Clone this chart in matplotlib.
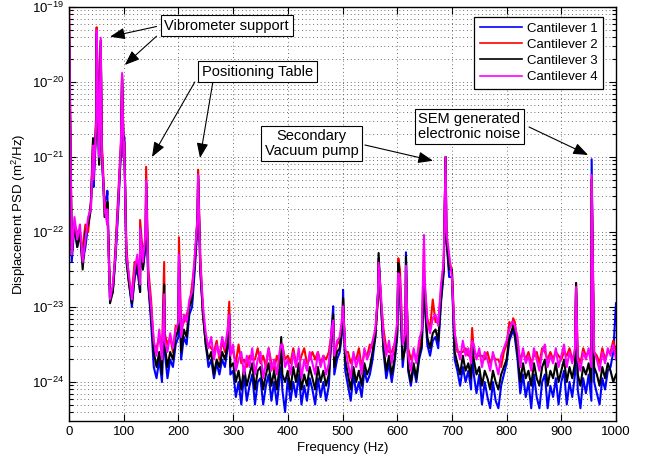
import numpy as np
import matplotlib
matplotlib.use("Agg")
import matplotlib.pyplot as plt
from matplotlib.ticker import FixedLocator, NullFormatter

plt.rcParams['font.family'] = ['Liberation Sans', 'DejaVu Sans']
plt.rcParams['mathtext.fontset'] = 'custom'
plt.rcParams['mathtext.rm'] = 'Liberation Sans'
plt.rcParams['mathtext.it'] = 'Liberation Sans:italic'

# ---------------- data (log10 of PSD, m^2/Hz) ----------------
# base spectrum sampled every 5 Hz, 0..1000 Hz
freq_base = np.arange(0, 1001, 5)

cant1_base = [
    -19.3, -22.4, -21.9, -22.2, -22.0, -22.4, -22.2, -21.9, -21.6, -21.4,
    -20.6, -21.1, -21.0, -21.6, -21.5, -22.9, -22.8, -22.35, -21.7, -20.9,
    -21.0, -22.3, -22.7, -23.0, -22.6, -22.5, -22.8, -22.5, -22.2, -22.7,
    -23.2, -23.8, -23.95, -23.7, -24.0, -23.6, -23.95, -23.7, -23.8, -23.5,
    -23.4, -23.7, -23.4, -23.5, -23.1, -23.0, -22.5, -21.9, -22.5, -23.1,
    -23.5, -23.8, -23.7, -23.95, -23.75, -23.9, -23.7, -23.8, -23.55, -23.9,
    -23.85, -24.2, -24.0, -24.3, -23.9, -24.25, -24.05, -23.9, -24.3, -24.0,
    -23.95, -24.3, -24.05, -23.9, -24.25, -24.0, -24.3, -23.95, -24.1, -24.4,
    -23.95, -24.25, -24.0, -24.2, -23.9, -24.3, -24.05, -24.25, -23.95, -24.1,
    -24.3, -23.95, -24.2, -24.0, -24.25, -24.05, -23.3, -23.9, -23.7, -23.6,
    -23.3, -23.85, -24.05, -24.25, -23.9, -24.15, -24.0, -24.2, -23.85, -24.0,
    -23.9, -23.7, -23.4, -22.8, -22.9, -23.6, -23.95, -23.75, -24.0, -23.75,
    -23.4, -22.8, -23.8, -23.45, -23.85, -24.05, -23.8, -24.0, -23.7, -23.55,
    -22.9, -23.5, -23.65, -23.45, -23.4, -23.55, -22.95, -22.55, -22.1, -22.6,
    -22.6, -23.7, -23.85, -24.05, -23.8, -24.0, -23.85, -24.1, -23.9, -24.15,
    -23.9, -24.3, -24.0, -24.2, -24.35, -24.0, -24.25, -24.35, -24.05, -23.9,
    -23.75, -23.45, -23.35, -23.4, -23.7, -24.15, -23.9, -24.2, -24.0, -24.35,
    -23.9, -24.2, -24.35, -24.0, -23.9, -24.35, -24.05, -24.2, -23.95, -24.3,
    -24.0, -23.85, -24.3, -24.0, -24.2, -23.9, -24.1, -24.35, -23.95, -24.15,
    -23.9, -24.25, -24.0, -24.15, -24.3, -23.95, -24.1, -23.85, -23.8, -23.6,
    -22.95]

cant2_base = [
    -19.0, -22.2, -21.9, -22.0, -22.1, -22.2, -21.9, -22.0, -21.6, -21.2,
    -20.4, -21.1, -20.8, -21.6, -21.8, -22.8, -22.8, -22.2, -21.5, -20.8,
    -20.9, -22.2, -22.7, -22.8, -22.4, -22.4, -22.6, -22.3, -22.1, -22.5,
    -22.9, -23.5, -23.55, -23.4, -23.6, -23.35, -23.5, -23.4, -23.6, -23.25,
    -23.3, -23.3, -23.2, -23.1, -23.0, -22.7, -22.4, -21.8, -22.3, -23.1,
    -23.45, -23.5, -23.55, -23.6, -23.45, -23.7, -23.45, -23.6, -23.35, -23.6,
    -23.6, -23.75, -23.5, -23.75, -23.7, -23.8, -23.65, -23.7, -23.7, -23.55,
    -23.75, -23.65, -23.8, -23.55, -23.75, -23.85, -23.65, -23.75, -23.5, -23.7,
    -23.65, -23.75, -23.55, -23.75, -23.8, -23.65, -23.55, -23.75, -23.7, -23.6,
    -23.7, -23.6, -23.75, -23.65, -23.7, -23.6, -23.35, -23.7, -23.5, -23.45,
    -23.2, -23.6, -23.6, -23.75, -23.65, -23.7, -23.55, -23.8, -23.6, -23.65,
    -23.5, -23.55, -23.35, -22.9, -22.9, -23.3, -23.55, -23.6, -23.6, -23.5,
    -23.3, -22.5, -23.45, -23.45, -23.55, -23.7, -23.6, -23.7, -23.55, -23.4,
    -22.7, -23.15, -23.3, -22.9, -23.2, -23.2, -22.8, -22.45, -22.1, -22.4,
    -22.5, -23.35, -23.6, -23.6, -23.6, -23.55, -23.65, -23.6, -23.6, -23.65,
    -23.65, -23.65, -23.7, -23.6, -23.75, -23.65, -23.7, -23.7, -23.8, -23.6,
    -23.5, -23.2, -23.25, -23.2, -23.5, -23.7, -23.6, -23.7, -23.6, -23.75,
    -23.65, -23.6, -23.75, -23.55, -23.6, -23.7, -23.6, -23.7, -23.6, -23.65,
    -23.7, -23.6, -23.65, -23.55, -23.7, -23.6, -23.65, -23.75, -23.55, -23.65,
    -23.6, -23.7, -23.6, -23.65, -23.75, -23.55, -23.7, -23.6, -23.6, -23.45,
    -23.6]

cant3_base = [
    -19.2, -22.3, -21.9, -22.2, -22.0, -22.5, -22.0, -21.9, -21.7, -21.3,
    -20.5, -21.1, -20.9, -21.8, -21.8, -22.95, -22.8, -22.3, -21.6, -20.9,
    -21.0, -22.4, -22.7, -22.95, -22.6, -22.4, -22.8, -22.5, -22.1, -22.7,
    -23.1, -23.6, -23.8, -23.6, -23.9, -23.5, -23.8, -23.6, -23.7, -23.4,
    -23.3, -23.6, -23.3, -23.4, -23.0, -22.9, -22.4, -21.8, -22.5, -23.1,
    -23.5, -23.7, -23.6, -23.9, -23.7, -23.8, -23.6, -23.7, -23.5, -23.8,
    -23.75, -24.0, -23.85, -24.1, -23.8, -24.05, -23.9, -23.75, -24.1, -23.85,
    -23.8, -24.1, -23.9, -23.75, -24.05, -23.85, -24.1, -23.8, -23.9, -24.0,
    -23.85, -24.1, -23.8, -24.0, -23.75, -24.1, -23.9, -24.05, -23.8, -23.95,
    -24.1, -23.8, -24.0, -23.85, -24.05, -23.9, -23.4, -23.8, -23.6, -23.55,
    -23.2, -23.7, -23.9, -24.1, -23.8, -24.0, -23.85, -24.05, -23.75, -23.9,
    -23.8, -23.6, -23.4, -22.8, -22.9, -23.55, -23.85, -23.65, -23.9, -23.7,
    -23.35, -22.7, -23.7, -23.55, -23.8, -24.0, -23.75, -23.95, -23.65, -23.5,
    -22.9, -23.4, -23.55, -23.35, -23.3, -23.45, -22.9, -22.5, -22.1, -22.5,
    -22.5, -23.6, -23.75, -23.9, -23.65, -23.85, -23.75, -23.95, -23.7, -23.9,
    -23.8, -24.05, -23.85, -23.95, -24.1, -23.85, -24.0, -24.1, -23.9, -23.8,
    -23.7, -23.4, -23.3, -23.35, -23.6, -24.0, -23.75, -23.95, -23.85, -24.05,
    -23.75, -23.95, -24.05, -23.8, -23.7, -24.05, -23.85, -23.95, -23.75, -24.0,
    -23.85, -23.7, -24.0, -23.8, -23.95, -23.75, -23.9, -24.05, -23.8, -23.9,
    -23.75, -24.0, -23.8, -23.9, -24.05, -23.8, -23.95, -23.75, -23.85, -24.0,
    -23.9]

cant4_base = [
    -19.0, -22.3, -21.8, -22.1, -21.9, -22.4, -22.1, -21.8, -21.7, -21.3,
    -20.5, -21.0, -20.9, -21.7, -21.9, -22.9, -22.7, -22.3, -21.6, -20.8,
    -21.0, -22.3, -22.6, -22.9, -22.5, -22.3, -22.7, -22.4, -22.0, -22.6,
    -23.0, -23.45, -23.65, -23.3, -23.7, -23.45, -23.6, -23.35, -23.55, -23.3,
    -23.2, -23.4, -23.1, -23.2, -22.9, -22.8, -22.3, -21.8, -22.4, -23.0,
    -23.35, -23.55, -23.4, -23.7, -23.5, -23.65, -23.4, -23.55, -23.3, -23.65,
    -23.5, -23.85, -23.7, -23.6, -23.9, -23.65, -23.8, -23.55, -23.9, -23.7,
    -23.6, -23.95, -23.75, -23.55, -23.85, -23.7, -23.9, -23.6, -23.5, -23.8,
    -23.7, -23.9, -23.6, -23.8, -23.55, -23.95, -23.7, -23.85, -23.6, -23.75,
    -23.9, -23.6, -23.8, -23.65, -23.9, -23.75, -23.3, -23.65, -23.45, -23.4,
    -23.1, -23.55, -23.75, -23.95, -23.6, -23.8, -23.65, -23.9, -23.55, -23.7,
    -23.6, -23.45, -23.3, -22.8, -22.8, -23.4, -23.65, -23.45, -23.75, -23.5,
    -23.2, -22.6, -23.5, -23.35, -23.65, -23.85, -23.55, -23.75, -23.45, -23.3,
    -22.6, -23.2, -23.35, -23.15, -23.1, -23.25, -22.7, -22.4, -22.0, -22.3,
    -22.6, -23.35, -23.55, -23.7, -23.45, -23.65, -23.55, -23.75, -23.5, -23.7,
    -23.55, -23.8, -23.6, -23.7, -23.85, -23.6, -23.75, -23.9, -23.65, -23.55,
    -23.45, -23.3, -23.2, -23.25, -23.4, -23.8, -23.55, -23.75, -23.65, -23.85,
    -23.55, -23.7, -23.85, -23.6, -23.5, -23.8, -23.65, -23.75, -23.55, -23.8,
    -23.65, -23.5, -23.8, -23.6, -23.75, -23.55, -23.7, -23.85, -23.6, -23.7,
    -23.55, -23.8, -23.6, -23.7, -23.85, -23.6, -23.75, -23.55, -23.65, -23.5,
    -23.7]

# narrow resonance peaks
peak_freq = [44, 50.5, 58, 70, 97, 101, 104, 130, 141, 174, 201, 236, 293,
             388, 483, 501, 566, 602, 616, 649, 688.5, 737, 812, 927, 955.5]
cant1_peaks = [-21.0, -19.4, -19.5, -21.45, -19.95, -20.73, -22.0, -22.0, -21.5,
               -22.9, -22.4, -21.3, -23.2, -23.8, -22.99, -22.77, -22.35, -22.5,
               -22.27, -22.5, -21.0, -23.5, -23.3, -22.75, -21.03]
cant2_peaks = [-20.75, -19.27, -19.45, -21.6, -19.9, -20.8, -21.87, -21.84, -21.13,
               -22.4, -22.07, -21.17, -22.93, -23.6, -23.2, -22.9, -22.4, -22.35,
               -22.5, -22.2, -21.0, -23.28, -23.15, -22.68, -21.3]
cant3_peaks = [-20.75, -19.35, -19.45, -21.6, -19.9, -20.8, -22.0, -21.95, -21.35,
               -22.7, -22.3, -21.25, -23.1, -23.4, -23.1, -22.88, -22.28, -22.41,
               -22.33, -22.6, -21.0, -23.45, -23.25, -22.68, -21.3]
cant4_peaks = [-20.85, -19.31, -19.41, -21.7, -19.88, -20.8, -22.0, -21.95, -21.31,
               -22.83, -22.3, -21.24, -23.1, -23.5, -23.18, -22.99, -22.41, -22.55,
               -22.45, -22.04, -21.0, -23.45, -23.2, -22.73, -21.24]

labels = ['Cantilever 1', 'Cantilever 2', 'Cantilever 3', 'Cantilever 4']
colors = ['#0000ff', '#ff0000', '#000000', '#ff00ff']

series = [(cant1_base, cant1_peaks), (cant2_base, cant2_peaks),
          (cant3_base, cant3_peaks), (cant4_base, cant4_peaks)]

# ---------------- figure ----------------
fig = plt.figure(figsize=(6.49, 4.61), dpi=100)
ax = fig.add_axes([69/649, 1-421/461, (616-69)/649, (421-7)/461])

f_all = np.concatenate([freq_base, np.array(peak_freq, dtype=float)])
order = np.argsort(f_all, kind='stable')
for (base, pk), lab, c in zip(series, labels, colors):
    v = np.concatenate([np.array(base), np.array(pk)])
    ax.semilogy(f_all[order], 10.0 ** v[order], color=c, lw=1.5, label=lab)

ymin, ymax = 10**-24.52, 1e-19
ax.set_xlim(0, 1000)
ax.set_ylim(ymin, ymax)
ax.set_xticks(np.arange(0, 1001, 100))
major_y = [10.0**e for e in range(-24, -18)]
minor_y = [m * 10.0**e for e in range(-25, -19) for m in range(2, 10)
           if ymin <= m * 10.0**e <= ymax]
ax.yaxis.set_major_locator(FixedLocator(major_y))
ax.yaxis.set_minor_locator(FixedLocator(minor_y))
ax.yaxis.set_minor_formatter(NullFormatter())

ax.tick_params(which='both', direction='in', top=True, right=True, labelsize=9.5,
               width=0.8)
ax.tick_params(which='major', length=5)
ax.tick_params(which='minor', length=3)
for s in ax.spines.values():
    s.set_linewidth(1.0)

gstyle = dict(linestyle=(0, (1, 3.5)), color='0.25', linewidth=0.6)
ax.grid(True, which='major', axis='both', **gstyle)
ax.grid(True, which='minor', axis='y', **gstyle)
ax.set_axisbelow(True)

ax.set_xlabel('Frequency (Hz)', fontsize=9.5, labelpad=3)
ax.set_ylabel('Displacement PSD (m$\\mathregular{^2}$/Hz)', fontsize=9.5, labelpad=3)

leg = ax.legend(loc='upper right', bbox_to_anchor=(0.977, 0.977), fontsize=9.5,
                frameon=True, fancybox=False, edgecolor='k', framealpha=1,
                handlelength=3.2, handletextpad=0.35, labelspacing=0.3,
                borderpad=0.45, borderaxespad=0.0)
leg.get_frame().set_linewidth(0.9)
for ln in leg.get_lines():
    ln.set_linewidth(1.2)

box = dict(boxstyle='square,pad=0.25', facecolor='white', edgecolor='k', linewidth=0.8)
arrow = dict(arrowstyle='-|>,head_length=0.9,head_width=0.35', color='k', lw=0.8,
             shrinkA=0, shrinkB=0)

def L(e):
    return 10.0 ** e

# Vibrometer support
ax.text(288.5, L(-19.247), 'Vibrometer support', ha='center', va='center',
        fontsize=10.5, bbox=box, zorder=6)
ax.annotate('', xy=(75, L(-19.396)), xytext=(160, L(-19.26)), arrowprops=arrow, zorder=5)
ax.annotate('', xy=(102, L(-19.773)), xytext=(160, L(-19.39)), arrowprops=arrow, zorder=5)

# Positioning Table
ax.text(344.6, L(-19.86), 'Positioning Table', ha='center', va='center',
        fontsize=10.5, bbox=box, zorder=6)
ax.annotate('', xy=(151.7, L(-21.0)), xytext=(230, L(-20.0)), arrowprops=arrow, zorder=5)
ax.annotate('', xy=(239.5, L(-21.013)), xytext=(263, L(-20.0)), arrowprops=arrow, zorder=5)

# Secondary vacuum pump
ax.text(444, L(-20.82), 'Secondary\nVacuum pump', ha='center', va='center',
        fontsize=10.5, bbox=box, zorder=6, linespacing=1.05)
ax.annotate('', xy=(665.5, L(-21.05)), xytext=(541, L(-20.84)), arrowprops=arrow, zorder=5)

# SEM generated electronic noise
ax.text(732, L(-20.593), 'SEM generated\nelectronic noise', ha='center', va='center',
        fontsize=10.5, bbox=box, zorder=6, linespacing=1.05)
ax.annotate('', xy=(949, L(-20.973)), xytext=(841, L(-20.6)), arrowprops=arrow, zorder=5)

fig.savefig('out.png', dpi=100)
